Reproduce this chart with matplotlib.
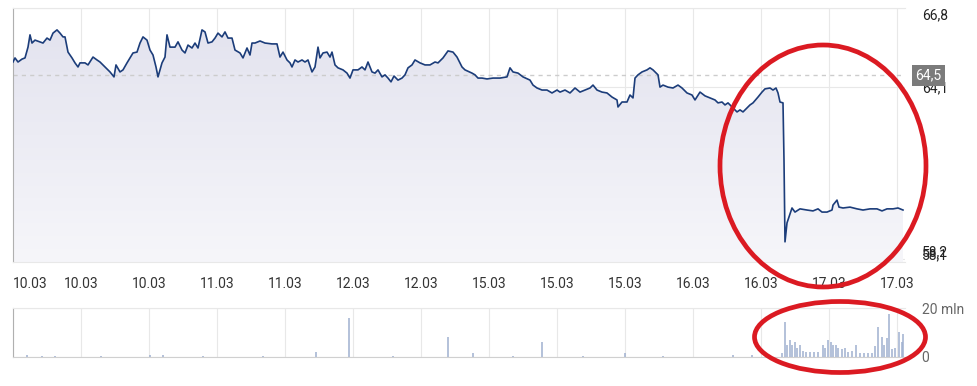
import numpy as np
import matplotlib
matplotlib.use('Agg')
import matplotlib.pyplot as plt
from matplotlib.colors import LinearSegmentedColormap
from matplotlib.patches import Ellipse

plt.rcParams['font.family'] = ['Roboto', 'DejaVu Sans']

# x axis: bar index, 68 bars per grid step
tick_pos = [68 * i for i in range(14)]
tick_labels = ['10.03', '10.03', '10.03', '11.03', '11.03', '12.03', '12.03',
               '15.03', '15.03', '15.03', '16.03', '16.03', '17.03', '17.03']

bars = [0, 2, 5, 9, 12, 15, 17, 19, 22, 27, 30, 34, 37, 40, 44, 47, 50, 52, 55, 59,
        62, 65, 67, 72, 75, 80, 84, 87, 92, 97, 101, 103, 107, 110, 114, 117, 120, 124,
        127, 130, 134, 137, 140, 143, 145, 149, 152, 154, 157, 162, 165, 169, 172, 175,
        179, 182, 185, 189, 192, 195, 199, 202, 205, 209, 212, 215, 219, 222,
        227, 230, 234, 237, 239, 242, 247, 252, 259, 264, 267, 270, 274, 277, 279, 282,
        285, 289, 292, 295, 299, 302, 305, 307, 310, 314, 317, 319, 322, 325, 330, 334,
        337, 340, 345, 349, 352, 355, 359, 362, 365, 369, 372, 375, 378, 381, 385, 389,
        392, 395, 399, 402, 407, 412, 417, 422, 425, 430, 435, 440, 444, 449,
        452, 459, 462, 465, 469, 474, 480, 487, 494, 497, 500, 505, 510, 517, 520, 524,
        529, 534, 539, 544, 547, 552, 557, 562, 567, 572, 577, 580, 584, 589, 594, 599,
        604, 605, 609, 614, 617, 620, 622, 625, 629, 634, 637, 640, 645, 647, 650, 655,
        660, 665, 669, 674, 679, 682, 687,
        692, 697, 702, 705, 709, 712, 715, 719, 724, 727, 730, 734, 737, 740, 745, 749,
        752, 757, 760, 763, 765, 767, 770, 771, 772, 774, 776, 779, 782, 787, 794, 800,
        805, 809, 814, 819, 820, 824, 826, 830, 837, 844, 850, 857, 864, 869, 874, 880,
        885, 890]

prices = [64.95, 65.09, 64.95, 65.05, 65.09, 65.46, 65.88, 65.60, 65.70, 65.64, 65.60,
          65.77, 65.70, 65.94, 66.05, 65.94, 65.81, 65.81, 65.29, 65.09, 64.92, 64.78,
          64.92, 64.92, 64.85, 65.12, 65.02, 64.95, 64.78, 64.61, 64.44, 64.85, 64.61,
          64.68, 64.92, 65.09, 65.26, 65.29, 65.60, 65.81, 65.70, 65.36, 65.19, 64.78,
          64.44, 64.92, 65.12, 65.88, 65.46, 65.46, 65.64, 65.36, 65.26, 65.53, 65.43,
          65.60, 65.43, 66.05, 65.98, 65.60, 65.64, 65.77, 65.94, 65.81, 65.98, 65.77,
          65.77, 65.36,
          65.26, 65.09, 65.43, 65.19, 65.60, 65.60, 65.67, 65.60, 65.57, 65.57, 65.12,
          65.29, 65.02, 64.92, 64.78, 65.02, 64.95, 65.02, 64.95, 65.02, 64.61, 64.78,
          65.46, 65.09, 65.26, 65.29, 65.12, 65.29, 64.85, 64.75, 64.68, 64.57, 64.40,
          64.68, 64.68, 64.78, 64.68, 64.95, 64.61, 64.57, 64.68, 64.44, 64.51, 64.40,
          64.27, 64.47, 64.33, 64.40, 64.51, 64.75, 64.85, 65.02, 64.92, 64.85, 64.85,
          64.95, 64.92, 65.09, 65.33, 65.29, 65.12, 64.78,
          64.68, 64.57, 64.51, 64.40, 64.40, 64.37, 64.40, 64.40, 64.44, 64.75, 64.61,
          64.57, 64.44, 64.33, 64.16, 64.06, 63.99, 63.99, 63.89, 63.99, 63.92, 63.99,
          63.89, 64.06, 63.92, 63.99, 64.06, 64.16, 63.99, 63.92, 63.89, 63.75, 63.65,
          63.41, 63.58, 63.58, 63.82, 63.72, 64.40, 64.51, 64.61, 64.68, 64.75, 64.68,
          64.51, 64.09, 64.16, 64.09, 64.06, 64.16, 64.06, 63.89, 63.82, 63.65, 63.92,
          63.79, 63.72, 63.65, 63.55, 63.58, 63.48, 63.55, 63.41, 63.24, 63.31, 63.24,
          63.38, 63.48, 63.55, 63.75, 63.92, 64.03, 64.06, 63.99, 64.06, 63.89, 63.58,
          63.55, 61.59, 58.79, 59.44, 59.64, 59.95, 59.81, 59.92, 59.88, 59.85, 59.92,
          59.81, 59.81, 59.88, 60.05, 60.22, 59.98, 59.95, 59.98, 59.92, 59.88, 59.92,
          59.92, 59.85, 59.92, 59.92, 59.95, 59.88]

prev_close = 64.5
price_ticks = [66.8, 64.1, 58.2, 58.1]
price_labels = ['66,8', '64,1', '58,2', '58,1']

vol_bars = [14, 29, 42, 88, 137, 150, 190, 250, 303, 336, 380, 435, 460, 500, 529,
            570, 612, 650, 720, 739,
            769, 772, 774, 777, 779, 782, 784, 787, 790, 793, 797, 801, 805, 810, 812,
            815, 818, 820, 823, 825, 829, 832, 835, 839, 843, 847, 851, 855, 859, 862,
            865, 869, 871, 874, 876, 879, 882, 886, 889, 890]
vol_mln = [0.8, 0.4, 0.5, 0.3, 1.0, 0.8, 0.3, 0.4, 2.2, 16.0, 0.4, 8.2, 1.8, 0.5, 6.0,
           0.4, 1.8, 0.5, 0.8, 0.8,
           1.5, 14.4, 4.9, 6.9, 4.9, 6.3, 3.7, 4.9, 2.4, 2.0, 2.0, 2.0, 2.0, 4.9, 3.7,
           6.9, 6.3, 4.9, 4.9, 3.7, 3.1, 3.7, 2.2, 2.6, 4.9, 1.8, 1.8, 1.8, 1.8, 4.3,
           12.2, 8.2, 4.9, 7.6, 17.6, 3.1, 3.7, 10.2, 6.3, 9.5]

W, H = 978, 386
fig = plt.figure(figsize=(W / 100, H / 100), dpi=100)
ax = fig.add_axes([13 / W, 1 - 262 / H, 892 / W, 254 / H])
vax = fig.add_axes([13 / W, 1 - 357 / H, 892 / W, 49 / H])

xmax = 892
ylo, yhi = 58.1, 66.8

# gradient fill under the line
poly = ax.fill_between(bars, prices, ylo, color='none', lw=0)
cmap = LinearSegmentedColormap.from_list('fill', ['#f6f6fa', '#e2e2ee'])
grad = np.linspace(0, 1, 256).reshape(-1, 1)
im = ax.imshow(grad, extent=[0, xmax, ylo, yhi], origin='lower', aspect='auto',
               cmap=cmap, zorder=1)
im.set_clip_path(poly.get_paths()[0], transform=ax.transData)

ax.plot(bars, prices, color='#1c3d7a', lw=1.2, zorder=3)
ax.axhline(prev_close, color='#cccccc', lw=1, dashes=(3, 3), zorder=2)

ax.set_xlim(0, xmax)
ax.set_ylim(ylo, yhi)
ax.set_xticks(tick_pos)
ax.set_xticklabels(tick_labels)
ax.xaxis.get_ticklabels()[0].set_horizontalalignment('left')
ax.yaxis.tick_right()
ax.set_yticks(price_ticks)
ax.set_yticklabels(price_labels)
tl = ax.yaxis.get_ticklabels()
tl[0].set_verticalalignment('top')
tl[2].set_verticalalignment('bottom')
tl[3].set_verticalalignment('bottom')
ax.tick_params(axis='x', length=0, pad=11, labelsize=10, labelcolor='#333333')
ax.tick_params(axis='y', length=0, pad=12, labelsize=10, labelcolor='#222222')
ax.grid(True, color='#e8e8e8', lw=0.8, zorder=0)
ax.set_axisbelow(True)
for side in ['top', 'bottom']:
    ax.spines[side].set_color('#e8e8e8')
ax.spines['right'].set_visible(False)
ax.spines['left'].set_color('#b0b0b0')

ax.text(1.0, prev_close, '64,5', transform=ax.get_yaxis_transform(),
        ha='left', va='center', fontsize=10, color='white',
        bbox=dict(boxstyle='square,pad=0.25', fc='#7b7b7b', ec='none'))
ax.texts[-1].set_x(1.0 + 10 / 892)

# volume panel
vax.vlines(vol_bars, 0, vol_mln, color='#9fb0d0', lw=1.1)
vax.set_xlim(0, xmax)
vax.set_ylim(0, 20)
vax.set_xticks(tick_pos)
vax.set_xticklabels([])
vax.yaxis.tick_right()
vax.set_yticks([0, 20])
vax.set_yticklabels(['0', '20 mln'])
vax.tick_params(axis='x', length=0)
vax.tick_params(axis='y', length=0, pad=12, labelsize=10, labelcolor='#666666')
vax.grid(True, color='#e8e8e8', lw=0.8)
vax.set_axisbelow(True)
vax.spines['top'].set_color('#e8e8e8')
vax.spines['bottom'].set_color('#d0d0d0')
vax.spines['right'].set_visible(False)
vax.spines['left'].set_color('#b0b0b0')

# red highlight rings
for cx, cy, ew, eh in [(823, 166, 206, 242), (840, 337, 171, 71)]:
    fig.add_artist(Ellipse((cx / W, 1 - cy / H), ew / W, eh / H,
                           transform=fig.transFigure, fill=False,
                           ec='#db1a22', lw=3.4, zorder=10))

fig.savefig('out.png', dpi=100, facecolor='white')
